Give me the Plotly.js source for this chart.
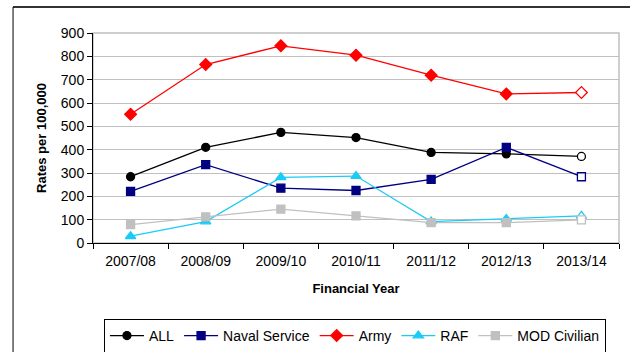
<!DOCTYPE html>
<html>
<head>
<meta charset="utf-8">
<script src="https://cdn.plot.ly/plotly-3.0.1.min.js"></script>
<style>
  html, body { margin: 0; padding: 0; background: #ffffff; }
  #chart { width: 630px; height: 352px; }
</style>
</head>
<body>
<div id="chart"></div>
<script>
// Financial years on the category axis
const years = ['2007/08', '2008/09', '2009/10', '2010/11', '2011/12', '2012/13', '2013/14'];

// Rates per 100,000 for each population
const allRates    = [284, 410, 474, 452, 388, 382, 371];
const navalRates  = [221, 336, 235, 225, 273, 410, 284];
const armyRates   = [552, 765, 845, 805, 719, 639, 645];
const rafRates    = [29, 92, 281, 287, 92, 103, 116];
const civilRates  = [79, 112, 145, 116, 87, 87, 99];

const seriesNames = ['ALL', 'Naval Service', 'Army', 'RAF', 'MOD Civilian'];

// The final year is provisional and drawn with hollow markers
function makeTrace(name, values, color, symbol, size) {
  const fills = values.map((v, i) => i === values.length - 1 ? '#ffffff' : color);
  return {
    type: 'scatter',
    mode: 'lines+markers',
    name: name,
    x: years,
    y: values,
    line: { color: color, width: 1.3 },
    marker: { symbol: symbol, size: size, color: fills, line: { color: color, width: 1.3 } }
  };
}

const data = [
  makeTrace(seriesNames[0], allRates, '#000000', 'circle', 8),
  makeTrace(seriesNames[1], navalRates, '#000080', 'square', 8),
  makeTrace(seriesNames[2], armyRates, '#ff0000', 'diamond', 9),
  makeTrace(seriesNames[3], rafRates, '#1ccbf5', 'triangle-up', 9),
  makeTrace(seriesNames[4], civilRates, '#c0c0c0', 'square', 8)
];

const family = 'Liberation Sans, Arial, sans-serif';
const font = { family: family, size: 14, color: '#000000' };
const titleFont = { family: family, size: 13, weight: 'bold', color: '#000000' };

const layout = {
  width: 630,
  height: 352,
  margin: { l: 93, r: 11, t: 33, b: 109 },
  paper_bgcolor: '#ffffff',
  plot_bgcolor: '#ffffff',
  font: font,
  showlegend: true,
  xaxis: {
    type: 'category',
    range: [-0.5, 6.5],
    showline: true,
    linecolor: '#000000',
    linewidth: 1,
    showgrid: false,
    ticks: 'outside',
    tickson: 'boundaries',
    ticklen: 5,
    tickcolor: '#000000',
    tickfont: font,
    ticklabelstandoff: 5,
    automargin: false,
    title: { text: 'Financial Year', font: titleFont, standoff: 16 }
  },
  yaxis: {
    range: [0, 900],
    dtick: 100,
    showline: true,
    linecolor: '#000000',
    linewidth: 1,
    showgrid: true,
    gridcolor: '#c0c0c0',
    gridwidth: 1,
    zeroline: false,
    ticks: 'outside',
    ticklen: 5,
    tickcolor: '#000000',
    tickfont: font,
    automargin: false,
    title: { text: 'Rates per 100,000', font: titleFont, standoff: 11 }
  },
  legend: {
    orientation: 'h',
    xref: 'container',
    yref: 'container',
    x: 0.165,
    xanchor: 'left',
    y: 0.0938,
    yanchor: 'top',
    itemwidth: 34,
    bordercolor: '#000000',
    borderwidth: 1,
    bgcolor: '#ffffff',
    font: font,
    traceorder: 'normal'
  },
  shapes: [
    // plot area border
    { type: 'rect', xref: 'paper', yref: 'paper', x0: 0, x1: 1, y0: 0, y1: 1,
      line: { color: '#c0c0c0', width: 1.5 }, layer: 'below' },
    // outer chart frame: top and left edges
    { type: 'line', xref: 'paper', yref: 'paper', x0: -0.152, x1: 1.03, y0: 1.124, y1: 1.124,
      line: { color: '#333333', width: 2 } },
    { type: 'line', xref: 'paper', yref: 'paper', x0: -0.152, x1: -0.152, y0: 1.124, y1: -0.55,
      line: { color: '#000000', width: 1 } }
  ]
};

Plotly.newPlot('chart', data, layout, { staticPlot: true, displayModeBar: false });
</script>
</body>
</html>
